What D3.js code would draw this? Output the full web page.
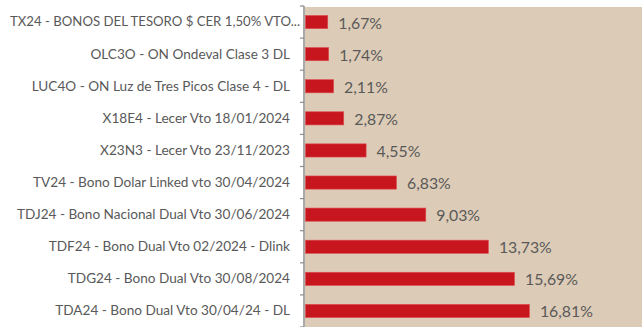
<!DOCTYPE html>
<html>
<head>
<meta charset="utf-8">
<script src="https://cdn.jsdelivr.net/npm/d3@7"></script>
<style>
  html, body { margin: 0; padding: 0; background: #ffffff; }
  svg { display: block; }
</style>
</head>
<body>
<div id="chart"></div>
<script>
// Instruments and their weights (%), top to bottom
const categories = [
  "TX24 - BONOS DEL TESORO $ CER 1,50% VTO...",
  "OLC3O - ON Ondeval Clase 3 DL",
  "LUC4O - ON Luz de Tres Picos Clase 4 - DL",
  "X18E4 - Lecer Vto 18/01/2024",
  "X23N3 - Lecer Vto 23/11/2023",
  "TV24 - Bono Dolar Linked vto 30/04/2024",
  "TDJ24 - Bono Nacional Dual Vto 30/06/2024",
  "TDF24 - Bono Dual Vto 02/2024 - Dlink",
  "TDG24 - Bono Dual Vto 30/08/2024",
  "TDA24 - Bono Dual Vto 30/04/24 - DL"
];
const values = [1.67, 1.74, 2.11, 2.87, 4.55, 6.83, 9.03, 13.73, 15.69, 16.81];
const valueLabels = ["1,67%", "1,74%", "2,11%", "2,87%", "4,55%", "6,83%", "9,03%", "13,73%", "15,69%", "16,81%"];

const W = 642, H = 327;
const plot = { left: 305, top: 6, right: 642, bottom: 327 };

const svg = d3.select("#chart").append("svg")
  .attr("width", W).attr("height", H);

const x = d3.scaleLinear()
  .domain([0, 25.3])
  .range([plot.left, plot.right]);

const y = d3.scaleBand()
  .domain(categories)
  .range([plot.top, plot.top + 32.1 * categories.length])
  .paddingInner(0.59)
  .paddingOuter(0.295);

// plot background
svg.append("rect")
  .attr("x", plot.left).attr("y", plot.top + 1)
  .attr("width", plot.right - plot.left)
  .attr("height", plot.bottom - plot.top)
  .attr("fill", "#dccbb6");

// bars
svg.append("g").selectAll("rect")
  .data(values)
  .join("rect")
  .attr("x", x(0) + 0.5)
  .attr("y", (d, i) => y(categories[i]))
  .attr("width", d => x(d) - x(0))
  .attr("height", y.bandwidth())
  .attr("fill", "#c8161e")
  .attr("stroke", "#de4b4f")
  .attr("stroke-width", 0.6);

// value labels
svg.append("g").selectAll("text")
  .data(values)
  .join("text")
  .attr("x", d => x(d) + 11)
  .attr("y", (d, i) => y(categories[i]) + y.bandwidth() / 2 + 2.5)
  .attr("dominant-baseline", "middle")
  .attr("font-family", "Lato, 'Open Sans', sans-serif")
  .attr("font-size", 15.8)
  .attr("fill", "#595959")
  .text((d, i) => valueLabels[i]);

// category axis with outward ticks between bands
const axis = svg.append("g");
axis.append("line")
  .attr("x1", plot.left - 1).attr("x2", plot.left - 1)
  .attr("y1", plot.top).attr("y2", plot.bottom)
  .attr("stroke", "#8c8c8c").attr("stroke-width", 1.5);

const step = y.step();
axis.selectAll("line.tick")
  .data(d3.range(categories.length + 1))
  .join("line")
  .attr("class", "tick")
  .attr("x1", plot.left - 5).attr("x2", plot.left - 1)
  .attr("y1", i => plot.top + i * step)
  .attr("y2", i => plot.top + i * step)
  .attr("stroke", "#8c8c8c").attr("stroke-width", 1.2);

// truncated first label sits a little further right, like the others it ends near the axis
axis.selectAll("text")
  .data(categories)
  .join("text")
  .attr("x", (d, i) => i === 0 ? plot.left - 5 : plot.left - 15)
  .attr("y", d => y(d) + y.bandwidth() / 2 + 1)
  .attr("text-anchor", "end")
  .attr("dominant-baseline", "middle")
  .attr("font-family", "Lato, 'Open Sans', sans-serif")
  .attr("font-size", 13.6)
  .attr("fill", "#595959")
  .each(function (d, i) {
    if (i === 0) d3.select(this).attr("textLength", 290).attr("lengthAdjust", "spacingAndGlyphs");
  })
  .text(d => d);
</script>
</body>
</html>
